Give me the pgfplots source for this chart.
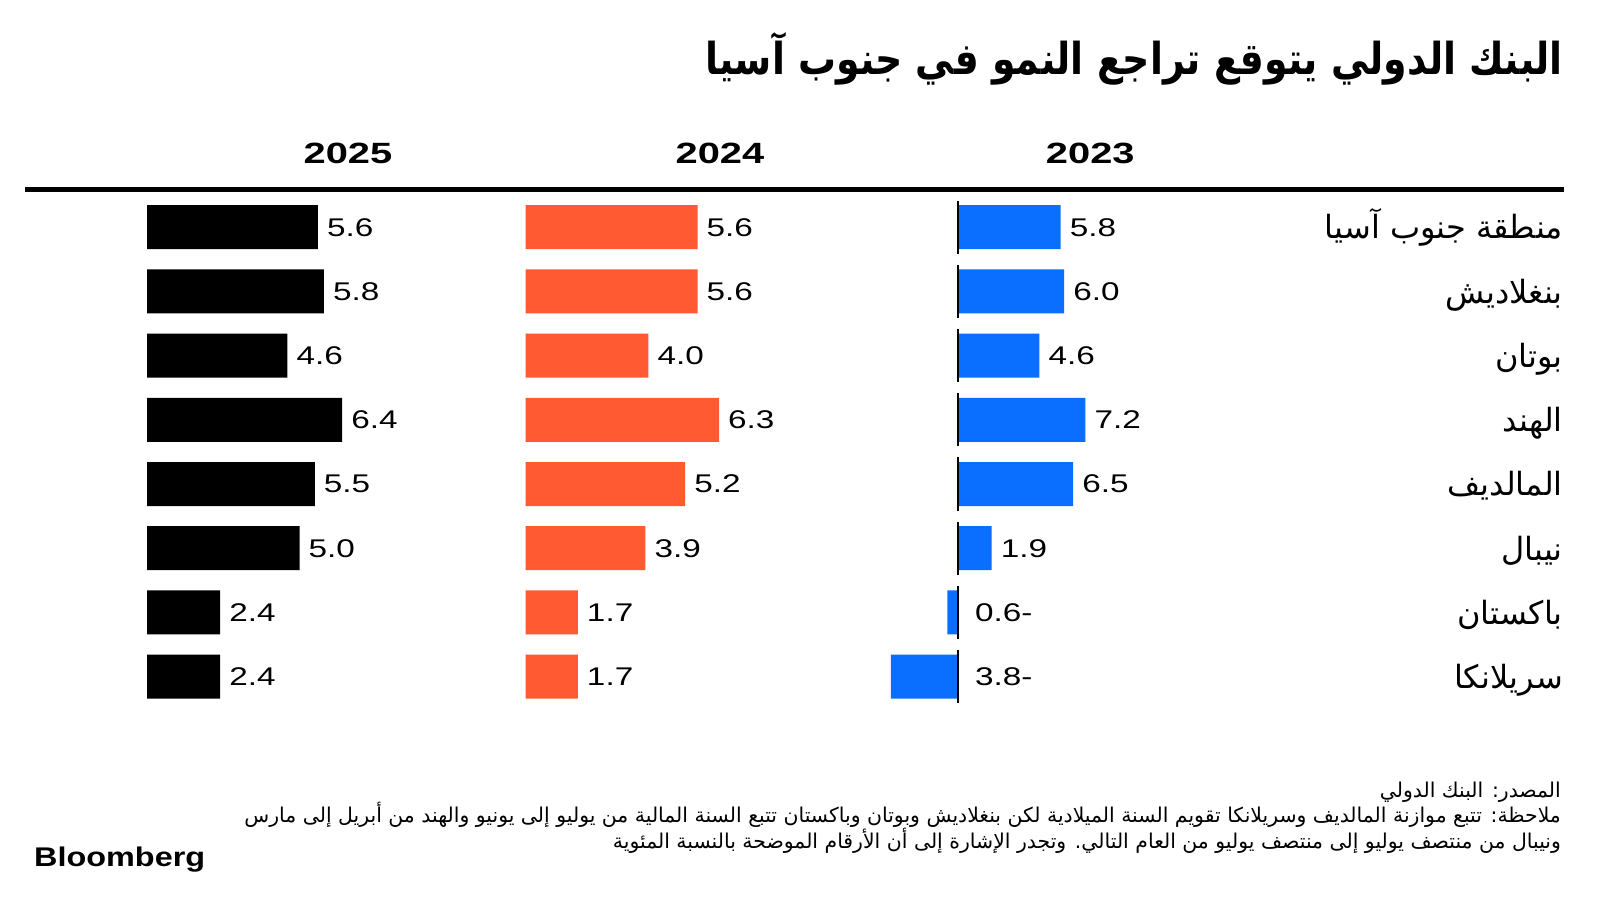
\documentclass[border=0pt]{standalone}
\usepackage{pgfplots}
\usepackage{pgfplotstable}
\pgfplotsset{compat=1.18}
\usepackage{fontspec}
\setmainfont{Liberation Sans}
\newfontfamily\numfont[FakeStretch=1.3]{Liberation Sans}
\newfontfamily\yearfont[FakeStretch=1.36]{Liberation Sans Bold}
\newfontfamily\logofont[FakeStretch=1.2]{Liberation Sans Bold}
\newfontfamily\arabicfont[Script=Arabic]{DejaVu Sans}
\newfontfamily\arabicbold[Script=Arabic, FakeStretch=0.86]{DejaVu Sans Bold}
\TeXXeTstate=1
\definecolor{bblue}{HTML}{0A6EFF}
\definecolor{borange}{HTML}{FF5A32}

\pgfplotstableread{
row v lab
0 5.8 5.8
1 6.0 6.0
2 4.6 4.6
3 7.2 7.2
4 6.5 6.5
5 1.9 1.9
6 -0.6 0.6-
7 -3.8 3.8-
}\dataA
\pgfplotstableread{
row v lab
0 5.6 5.6
1 5.6 5.6
2 4.0 4.0
3 6.3 6.3
4 5.2 5.2
5 3.9 3.9
6 1.7 1.7
7 1.7 1.7
}\dataB
\pgfplotstableread{
row v lab
0 5.6 5.6
1 5.8 5.8
2 4.6 4.6
3 6.4 6.4
4 5.5 5.5
5 5.0 5.0
6 2.4 2.4
7 2.4 2.4
}\dataC

\pgfplotsset{panel/.style={
  hide axis, scale only axis, clip=false,
  height=513.6pt, ymin=-0.5, ymax=7.5, y dir=reverse,
  anchor=north west,
}, vlab/.style={
  draw=none, mark=none, nodes near coords, point meta=explicit symbolic,
  nodes near coords align=horizontal,
  every node near coord/.style={anchor=west, inner sep=0pt, xshift=#1,
    font=\numfont\fontsize{25.6}{30}\selectfont, text=black},
}}

\begin{document}
\begin{tikzpicture}
\fill[white] (0,0) rectangle (1600pt,914pt);
\path[use as bounding box] (0,0) rectangle (1600pt,914pt);

% title
\node[anchor=base east, inner sep=0pt, font=\arabicbold\fontsize{44}{50}\selectfont]
  at (1563pt, 839pt) {\beginR البنك الدولي يتوقع تراجع النمو في جنوب آسيا\endR};

% year headers
\foreach \x/\yr in {348/2025, 720/2024, 1090.3/2023}
  \node[inner sep=0pt, font=\yearfont\fontsize{29.3}{34}\selectfont] at (\x pt, 760.2pt) {\yr};
\draw[line width=4.3pt] (25pt,724.5pt) -- (1564pt,724.5pt);

% 2023
\begin{axis}[panel, at={(869.5pt,718.9pt)}, width=265.5pt, xmin=-5, xmax=10]
\addplot[xbar, bar width=44pt, fill=bblue, draw=none] table[x=v, y=row] {\dataA};
\addplot[vlab=9pt, skip coords between index={6}{8}] table[x=v, y=row, meta=lab] {\dataA};
\addplot[vlab=17pt] coordinates {(0,6) [0.6-] (0,7) [3.8-]};
\pgfplotsinvokeforeach{0,...,7}{
  \draw[line width=2.6pt] (axis cs:0,#1-0.413) -- (axis cs:0,#1+0.413);
}
\end{axis}

% 2024
\begin{axis}[panel, at={(525.6pt,718.9pt)}, width=245.6pt, xmin=0, xmax=8]
\addplot[xbar, bar width=44pt, fill=borange, draw=none] table[x=v, y=row] {\dataB};
\addplot[vlab=9pt] table[x=v, y=row, meta=lab] {\dataB};
\end{axis}

% 2025
\begin{axis}[panel, at={(147pt,718.9pt)}, width=244pt, xmin=0, xmax=8]
\addplot[xbar, bar width=44pt, fill=black, draw=none] table[x=v, y=row] {\dataC};
\addplot[vlab=9pt] table[x=v, y=row, meta=lab] {\dataC};
\end{axis}

% country labels
\foreach \lab [count=\i from 0] in {منطقة جنوب آسيا, بنغلاديش, بوتان, الهند, المالديف, نيبال, باكستان, سريلانكا}
  \node[anchor=base east, inner sep=0pt, font=\arabicfont\fontsize{32}{36}\selectfont]
    at (1563pt, {(914-239-64.2*\i)*1pt}) {\beginR\lab\endR};

% footnotes
\node[anchor=base east, inner sep=0pt, font=\arabicfont\fontsize{20.4}{24}\selectfont] at (1561pt, 117pt)
  {\beginR المصدر: البنك الدولي\endR};
\node[anchor=base east, inner sep=0pt, font=\arabicfont\fontsize{20.4}{24}\selectfont] at (1561pt, 92pt)
  {\beginR ملاحظة: تتبع موازنة المالديف وسريلانكا تقويم السنة الميلادية لكن بنغلاديش وبوتان وباكستان تتبع السنة المالية من يوليو إلى يونيو والهند من أبريل إلى مارس\endR};
\node[anchor=base east, inner sep=0pt, font=\arabicfont\fontsize{20.4}{24}\selectfont] at (1561pt, 66pt)
  {\beginR ونيبال من منتصف يوليو إلى منتصف يوليو من العام التالي. وتجدر الإشارة إلى أن الأرقام الموضحة بالنسبة المئوية\endR};

% logo
\node[anchor=base west, inner sep=0pt, font=\logofont\fontsize{27}{31}\selectfont] at (34pt, 48pt) {Bloomberg};
\end{tikzpicture}
\end{document}
